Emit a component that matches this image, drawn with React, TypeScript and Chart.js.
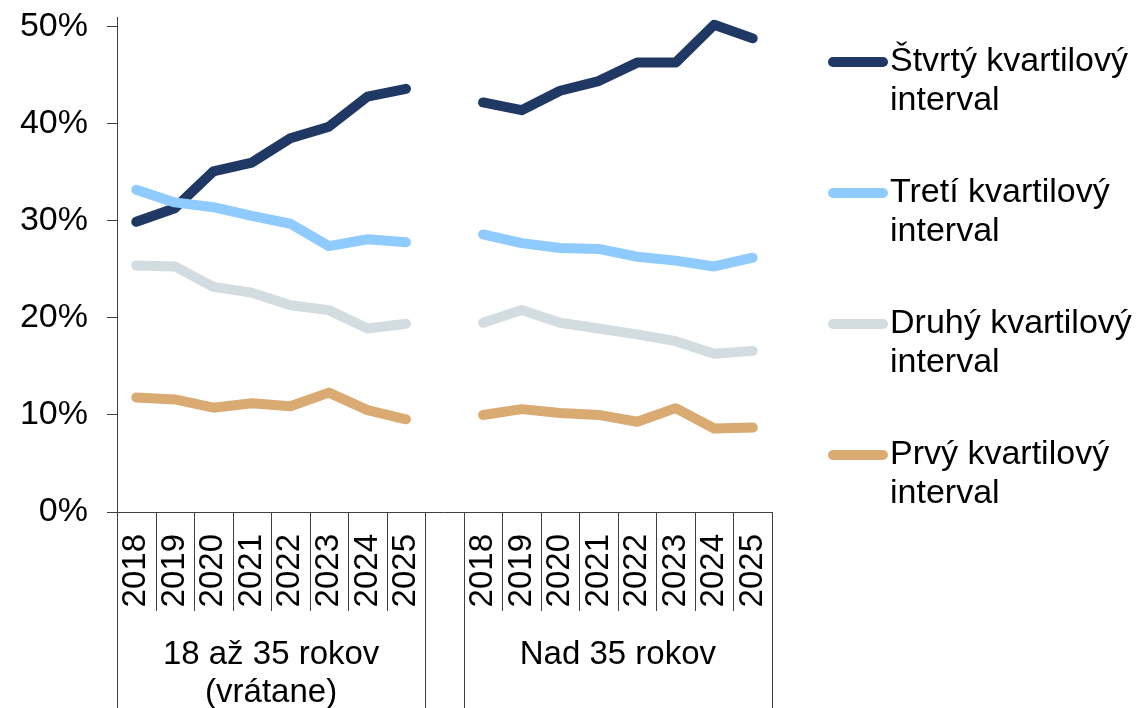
import React, { useEffect, useRef } from 'react';
import { Chart, registerables } from 'chart.js';

Chart.register(...registerables);

const years = ['2018', '2019', '2020', '2021', '2022', '2023', '2024', '2025'];
const groupLabels = [['18 až 35 rokov', '(vrátane)'], [], ['Nad 35 rokov']];
const groupSizes = [8, 1, 8];
const categories = [...years, '', ...years];

const seriesNames = [
  ['Štvrtý kvartilový', 'interval'],
  ['Tretí kvartilový', 'interval'],
  ['Druhý kvartilový', 'interval'],
  ['Prvý kvartilový', 'interval'],
];
const seriesColors = ['#1F3864', '#8FCBFE', '#D3DCE1', '#D9AA72'];
const seriesOrder = [1, 0, 2, 3];

const q4Young = [29.9, 31.3, 35.1, 36.0, 38.5, 39.7, 42.8, 43.6];
const q4Old = [42.2, 41.4, 43.4, 44.4, 46.3, 46.3, 50.2, 48.8];
const q3Young = [33.2, 31.9, 31.4, 30.5, 29.7, 27.4, 28.1, 27.8];
const q3Old = [28.6, 27.7, 27.2, 27.1, 26.3, 25.9, 25.3, 26.2];
const q2Young = [25.4, 25.3, 23.2, 22.6, 21.3, 20.8, 18.9, 19.4];
const q2Old = [19.5, 20.8, 19.5, 18.9, 18.3, 17.6, 16.3, 16.6];
const q1Young = [11.8, 11.6, 10.75, 11.2, 10.9, 12.3, 10.5, 9.55];
const q1Old = [10.0, 10.6, 10.2, 10.0, 9.3, 10.7, 8.6, 8.7];

const youngSeries = [q4Young, q3Young, q2Young, q1Young];
const oldSeries = [q4Old, q3Old, q2Old, q1Old];

const yTicks = [0, 10, 20, 30, 40, 50];

const FONT = '"Liberation Sans", Arial, sans-serif';
const AXIS_COLOR = '#404040';

const multiAxisAndLegend = {
  id: 'multiAxisAndLegend',
  afterDraw(chart: any) {
    const ctx = chart.ctx;
    const xs = chart.scales.x;
    const area = chart.chartArea;
    const n = categories.length;
    const w = (area.right - area.left) / n;
    const bottom = area.bottom;
    ctx.save();
    // baseline
    ctx.strokeStyle = AXIS_COLOR;
    ctx.lineWidth = 1;
    ctx.beginPath();
    ctx.moveTo(area.left, bottom + 0.5);
    ctx.lineTo(area.right, bottom + 0.5);
    ctx.stroke();
    // group edges
    const edges = new Set<number>();
    let acc = 0;
    edges.add(0);
    groupSizes.forEach((s) => {
      acc += s;
      edges.add(acc);
    });
    for (let i = 0; i <= n; i++) {
      const x = Math.round(xs.getPixelForValue(Math.min(i, n - 1)) + (i === n ? w / 2 : -w / 2)) + 0.5;
      const isEdge = edges.has(i);
      if (!isEdge && (categories[i] === '' || categories[i - 1] === '')) continue;
      ctx.beginPath();
      ctx.moveTo(x, bottom);
      ctx.lineTo(x, isEdge ? chart.height : bottom + 99);
      ctx.stroke();
    }
    // year labels
    ctx.fillStyle = '#000';
    ctx.font = `33px ${FONT}`;
    categories.forEach((c, i) => {
      if (!c) return;
      const x = xs.getPixelForValue(i);
      ctx.save();
      ctx.translate(x, bottom + 22);
      ctx.rotate(-Math.PI / 2);
      ctx.textAlign = 'right';
      ctx.textBaseline = 'middle';
      ctx.fillText(c, 0, 0);
      ctx.restore();
    });
    // group labels
    let start = 0;
    groupSizes.forEach((s, gi) => {
      const x0 = xs.getPixelForValue(start);
      const x1 = xs.getPixelForValue(start + s - 1);
      const cx = (x0 + x1) / 2;
      ctx.textAlign = 'center';
      ctx.textBaseline = 'middle';
      groupLabels[gi].forEach((line, li) => {
        ctx.fillText(line, cx, bottom + 143 + li * 38);
      });
      start += s;
    });
    // legend
    ctx.font = `34px ${FONT}`;
    chart.data.datasets.forEach((ds: any, i: number) => {
      const y = 62 + i * 131;
      ctx.strokeStyle = ds.borderColor;
      ctx.lineWidth = 10;
      ctx.lineCap = 'round';
      ctx.beginPath();
      ctx.moveTo(833, y);
      ctx.lineTo(883, y);
      ctx.stroke();
      ctx.fillStyle = '#000';
      ctx.textAlign = 'left';
      ctx.textBaseline = 'middle';
      seriesNames[i].forEach((line, li) => {
        ctx.fillText(line, 890, y + li * 39);
      });
    });
    ctx.restore();
  },
};

export default function App() {
  const ref = useRef<HTMLCanvasElement | null>(null);
  useEffect(() => {
    if (!ref.current) return;
    const datasets = seriesNames.map((name, i) => ({
      label: name.join(' '),
      data: [...youngSeries[i], null, ...oldSeries[i]],
      borderColor: seriesColors[i],
      backgroundColor: seriesColors[i],
      borderWidth: 10,
      borderCapStyle: 'round' as const,
      borderJoinStyle: 'round' as const,
      pointRadius: 0,
      pointHoverRadius: 0,
      spanGaps: false,
      tension: 0,
      order: seriesOrder[i],
    }));
    const chart = new Chart(ref.current, {
      type: 'line',
      data: { labels: categories, datasets },
      options: {
        animation: false,
        responsive: false,
        events: [],
        layout: { padding: { left: 0, right: 366, top: 17, bottom: 196 } },
        plugins: { legend: { display: false }, tooltip: { enabled: false } },
        scales: {
          x: {
            type: 'category',
            display: false,
            offset: true,
          },
          y: {
            min: 0,
            max: 51,
            border: { display: true, color: AXIS_COLOR, width: 1 },
            grid: { drawOnChartArea: false, drawTicks: true, tickLength: 10, color: AXIS_COLOR },
            ticks: {
              padding: 19,
              color: '#000',
              font: { family: FONT, size: 34 },
              callback: (v: any) => `${v}%`,
            },
            afterBuildTicks: (scale: any) => {
              scale.ticks = yTicks.map((v) => ({ value: v }));
            },
            afterFit: (scale: any) => {
              scale.width = 117;
              scale.paddingTop = 0;
              scale.paddingBottom = 0;
            },
          },
        },
      },
      plugins: [multiAxisAndLegend],
    });
    return () => chart.destroy();
  }, []);
  return (
    <div style={{ position: 'fixed', left: 0, top: 0, width: 1138, height: 708, background: '#fff' }}>
      <canvas ref={ref} width={1138} height={708} />
    </div>
  );
}
